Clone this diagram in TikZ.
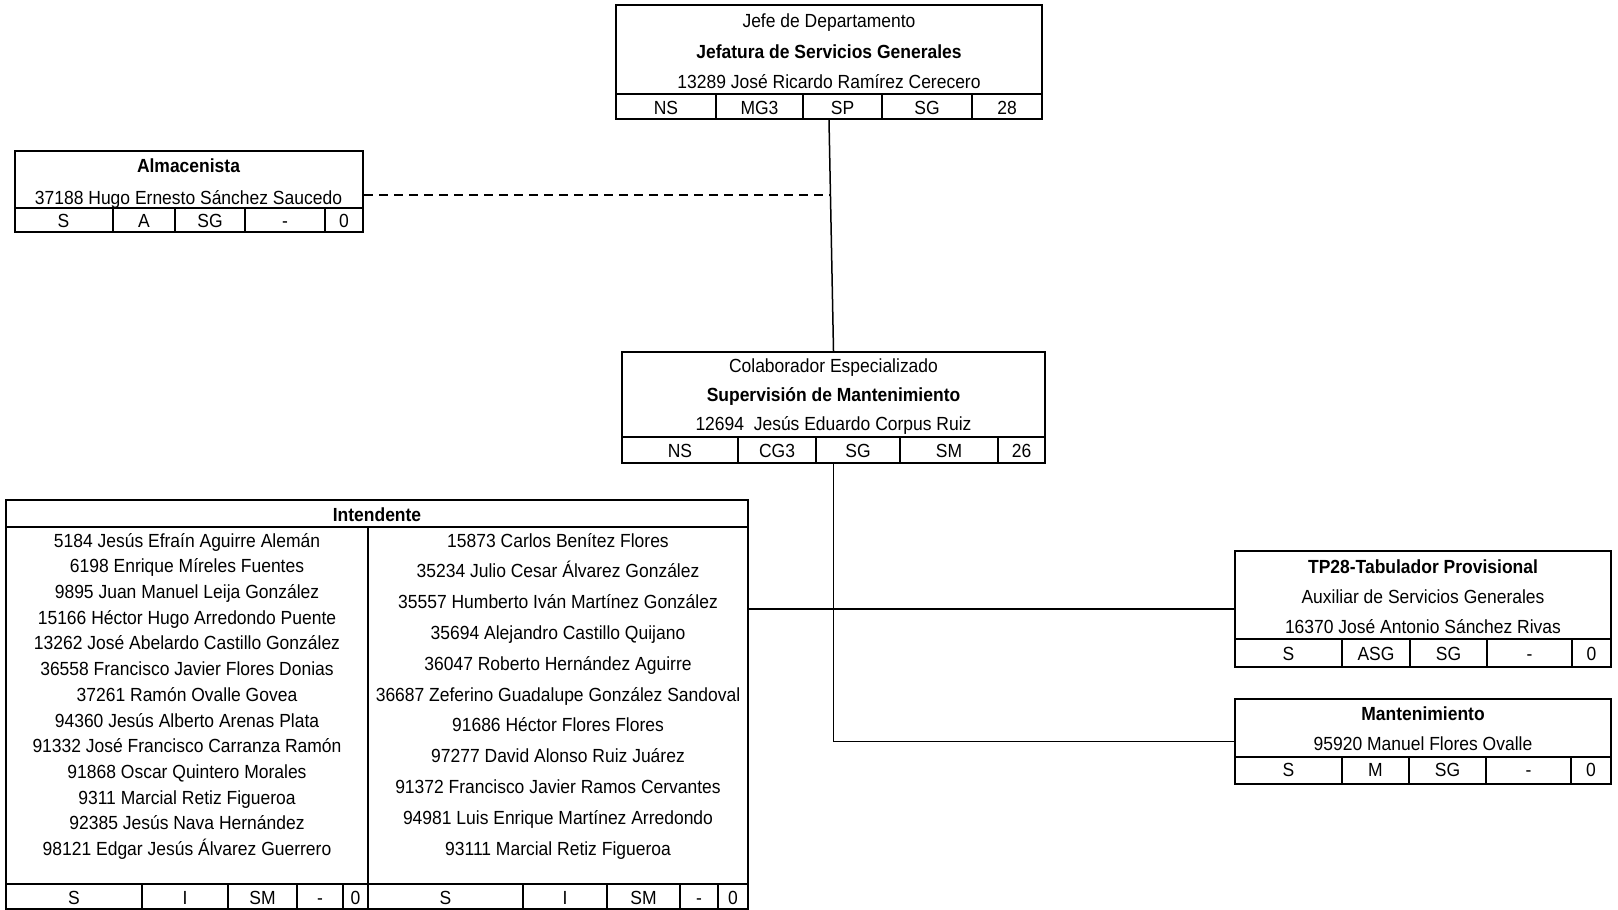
\documentclass[tikz,border=0pt]{standalone}
\usepackage{fontspec}
\setmainfont[FakeStretch=0.92]{Liberation Sans}
\usetikzlibrary{fit}
\begin{document}
\begin{tikzpicture}[x=1pt,y=-1pt,
  box/.style={draw, line width=2.4pt, inner sep=0pt, fit={#1}},
  sep/.style={line width=1.9pt},
  con/.style={line width=1.5pt},
  dashcon/.style={line width=1.5pt, dash pattern=on 9pt off 6pt},
  txt/.style={inner sep=0pt, yshift=-3.5pt, text height=0.72em, text depth=0.2em, font=\fontsize{19}{21}\selectfont},
  btxt/.style={txt, font=\fontsize{19}{21}\selectfont\bfseries}]
\useasboundingbox[fill=white] (0,0) rectangle (1618,910);

% ---- Jefatura
\node[box={(616,5)(1042,119)}] (jef) {};
\draw[sep] (616,94) -- (1042,94);
\foreach \x in {716,803,882,972} \draw[sep] (\x,94) -- (\x,119);
\node[txt] (j1) at (829,21) {Jefe de Departamento};
\node[btxt] (j2) at (829,52) {Jefatura de Servicios Generales};
\node[txt] (j3) at (829,82) {13289 José Ricardo Ramírez Cerecero};
\node[txt] (j4) at (666,108) {NS};
\node[txt] (j5) at (759.5,108) {MG3};
\node[txt] (j6) at (842.5,108) {SP};
\node[txt] (j7) at (927,108) {SG};
\node[txt] (j8) at (1007,108) {28};

% ---- Almacenista
\node[box={(15,151)(363,232)}] (alm) {};
\draw[sep] (15,208) -- (363,208);
\foreach \x in {113,175,245,325} \draw[sep] (\x,208) -- (\x,232);
\node[btxt] (a1) at (188.5,166.5) {Almacenista};
\node[txt] (a2) at (188.5,198.5) {37188 Hugo Ernesto Sánchez Saucedo};
\node[txt] (a3) at (63.5,221.5) {S};
\node[txt] (a4) at (144,221.5) {A};
\node[txt] (a5) at (210,221.5) {SG};
\node[txt] (a6) at (285,221.5) {-};
\node[txt] (a7) at (344,221.5) {0};

% ---- Supervision
\node[box={(622,352)(1045,463)}] (sup) {};
\draw[sep] (622,437) -- (1045,437);
\foreach \x in {738,816,900,998} \draw[sep] (\x,437) -- (\x,463);
\node[txt] (s1) at (833.5,366) {Colaborador Especializado};
\node[btxt] (s2) at (833.5,395) {Supervisión de Mantenimiento};
\node[txt] (s3) at (833.5,424) {12694\ \ Jesús Eduardo Corpus Ruiz};
\node[txt] (s4) at (680,451) {NS};
\node[txt] (s5) at (777,451) {CG3};
\node[txt] (s6) at (858,451) {SG};
\node[txt] (s7) at (949,451) {SM};
\node[txt] (s8) at (1021.5,451) {26};

% ---- Intendente
\node[box={(6,500)(748,909)}] (int) {};
\draw[sep] (6,527) -- (748,527);
\draw[sep] (6,884) -- (748,884);
\draw[sep] (368,527) -- (368,909);
\foreach \x in {142,228,297,343,523,607,680,718} \draw[sep] (\x,884) -- (\x,909);
\node[btxt] (i0) at (377,515) {Intendente};
\foreach \t [count=\k from 0] in {
  5184 Jesús Efraín Aguirre Alemán,
  6198 Enrique Míreles Fuentes,
  9895 Juan Manuel Leija González,
  15166 Héctor Hugo Arredondo Puente,
  13262 José Abelardo Castillo González,
  36558 Francisco Javier Flores Donias,
  37261 Ramón Ovalle Govea,
  94360 Jesús Alberto Arenas Plata,
  91332 José Francisco Carranza Ramón,
  91868 Oscar Quintero Morales,
  9311 Marcial Retiz Figueroa,
  92385 Jesús Nava Hernández,
  98121 Edgar Jesús Álvarez Guerrero}
  \node[txt] (il\k) at (187,{541+25.7*\k}) {\t};
\foreach \t [count=\k from 0] in {
  15873 Carlos Benítez Flores,
  35234 Julio Cesar Álvarez González,
  35557 Humberto Iván Martínez González,
  35694 Alejandro Castillo Quijano,
  36047 Roberto Hernández Aguirre,
  36687 Zeferino Guadalupe González Sandoval,
  91686 Héctor Flores Flores,
  97277 David Alonso Ruiz Juárez,
  91372 Francisco Javier Ramos Cervantes,
  94981 Luis Enrique Martínez Arredondo,
  93111 Marcial Retiz Figueroa}
  \node[txt] (ir\k) at (558,{541+30.8*\k}) {\t};
\node[txt] (ib1) at (74,898) {S};
\node[txt] (ib2) at (185,898) {I};
\node[txt] (ib3) at (262.5,898) {SM};
\node[txt] (ib4) at (320,898) {-};
\node[txt] (ib5) at (355.5,898) {0};
\node[txt] (ib6) at (445.5,898) {S};
\node[txt] (ib7) at (565,898) {I};
\node[txt] (ib8) at (643.5,898) {SM};
\node[txt] (ib9) at (699,898) {-};
\node[txt] (ib10) at (733,898) {0};

% ---- TP28
\node[box={(1235,551)(1611,667)}] (tp) {};
\draw[sep] (1235,639) -- (1611,639);
\foreach \x in {1342,1410,1487,1572} \draw[sep] (\x,639) -- (\x,667);
\node[btxt] (t1) at (1423,567) {TP28-Tabulador Provisional};
\node[txt] (t2) at (1423,597) {Auxiliar de Servicios Generales};
\node[txt] (t3) at (1423,627) {16370 José Antonio Sánchez Rivas};
\node[txt] (t4) at (1288.5,654) {S};
\node[txt] (t5) at (1376,654) {ASG};
\node[txt] (t6) at (1448.5,654) {SG};
\node[txt] (t7) at (1529.5,654) {-};
\node[txt] (t8) at (1591.5,654) {0};

% ---- Mantenimiento
\node[box={(1235,699)(1611,784)}] (man) {};
\draw[sep] (1235,757) -- (1611,757);
\foreach \x in {1342,1409,1486,1571} \draw[sep] (\x,757) -- (\x,784);
\node[btxt] (m1) at (1423,714) {Mantenimiento};
\node[txt] (m2) at (1423,744) {95920 Manuel Flores Ovalle};
\node[txt] (m3) at (1288.5,770) {S};
\node[txt] (m4) at (1375.5,770) {M};
\node[txt] (m5) at (1447.5,770) {SG};
\node[txt] (m6) at (1528.5,770) {-};
\node[txt] (m7) at (1591,770) {0};

% ---- connectors
\coordinate (dj) at (829.5,195);
\draw[con] (jef.south) -- (sup.north);
\draw[dashcon] (alm.east |- dj) -- (dj);
\draw[con] (sup.south) |- (man.west);
\draw[con] (int.east |- tp.west) -- (tp.west);
\end{tikzpicture}
\end{document}
